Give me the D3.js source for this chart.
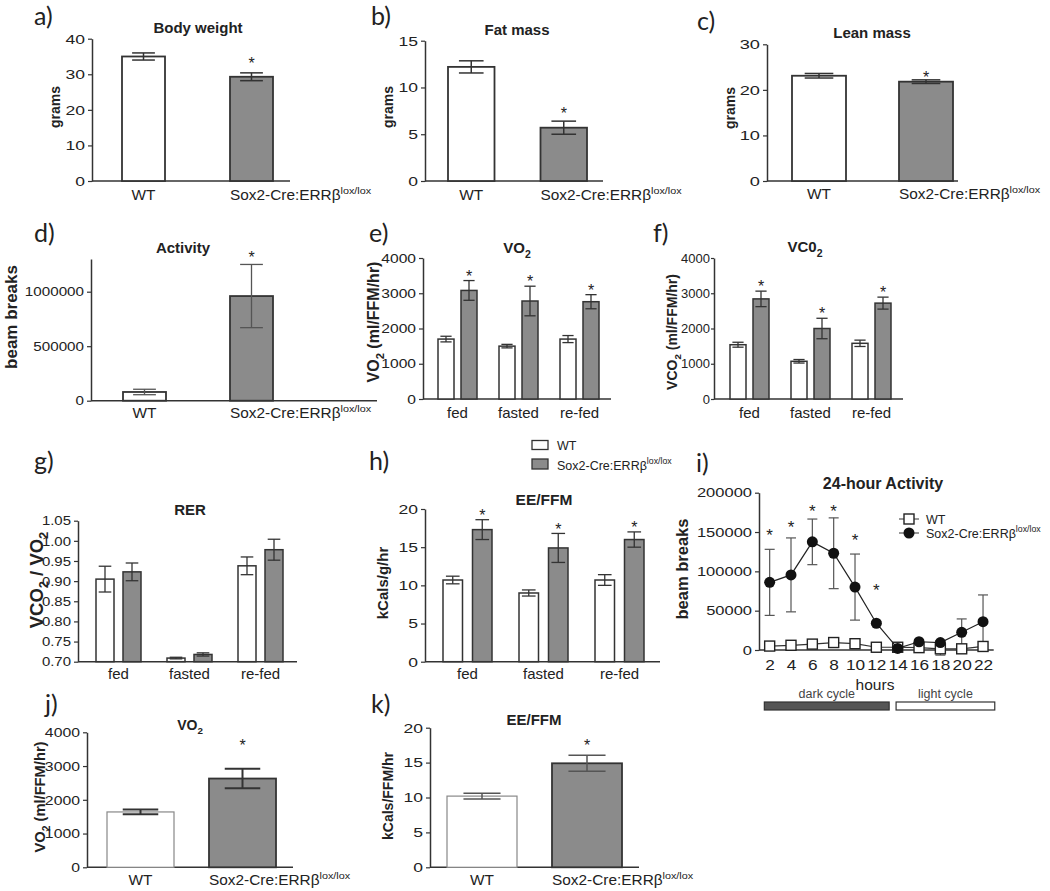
<!DOCTYPE html>
<html><head><meta charset="utf-8">
<script src="https://cdn.jsdelivr.net/npm/d3@7"></script>
<style>
body{margin:0;background:#fff;}
svg{display:block;font-family:"Liberation Sans",Arial,sans-serif;}
</style></head><body><svg id="c" width="1050" height="891"></svg>
<script>
// ---------------- data ----------------
const genotypes = ["WT", "Sox2-Cre:ERRβ"];
const bodyWeight = [35.0, 29.3], bodyWeightErr = [1.0, 1.1];
const fatMass = [12.2, 5.7], fatMassErr = [0.65, 0.7];
const leanMass = [23.1, 21.8], leanMassErr = [0.5, 0.4];
const activity = [80000, 960000], activityErr = [25000, 290000];
const twoBarStars = [false, true];

const conditions = ["fed", "fasted", "re-fed"];
const vo2WT = [1700, 1500, 1700], vo2WTErr = [80, 50, 100];
const vo2Sox = [3080, 2780, 2760], vo2SoxErr = [280, 420, 200];
const vco2WT = [1540, 1070, 1580], vco2WTErr = [70, 50, 90];
const vco2Sox = [2840, 2000, 2720], vco2SoxErr = [220, 290, 170];
const rerWT = [0.905, 0.709, 0.938], rerWTErr = [0.032, 0.002, 0.022];
const rerSox = [0.923, 0.718, 0.978], rerSoxErr = [0.022, 0.004, 0.026];
const eeWT = [10.7, 9.0, 10.7], eeWTErr = [0.5, 0.4, 0.7];
const eeSox = [17.3, 14.9, 16.0], eeSoxErr = [1.3, 1.9, 1.0];

const hours = [2, 4, 6, 8, 10, 12, 14, 16, 18, 20, 22];
const actWT = [5000, 6000, 7500, 9500, 8000, 3500, 3500, 3000, 1500, 1500, 4500];
const actWTErr = [1500, 2000, 2000, 2000, 2000, 1500, 2000, 6000, 8000, 2000, 3000];
const actSox = [86000, 95500, 137500, 123000, 80000, 34000, 2000, 10500, 9500, 22500, 36000];
const actSoxErr = [42000, 47000, 29000, 45000, 42000, 2000, 2000, 2000, 2000, 17000, 34000];
const actStarHours = [2, 4, 6, 8, 10, 12];
const actStarLevel = [150500, 161500, 181000, 181000, 145000, 81400];
const cycleNames = ["dark cycle", "light cycle"];
const cycleStart = [1.5, 13.85];
const cycleEnd = [13.2, 23.1];

const vo2Total = [1640, 2630], vo2TotalErr = [70, 290];
const eeTotal = [10.2, 14.9], eeTotalErr = [0.4, 1.15];

const ticks0to40 = [0, 10, 20, 30, 40];
const ticks0to15 = [0, 5, 10, 15];
const ticks0to30 = [0, 10, 20, 30];
const ticksActivity = [0, 500000, 1000000];
const ticks0to4000 = [0, 1000, 2000, 3000, 4000];
const ticksRER = [0.70, 0.75, 0.80, 0.85, 0.90, 0.95, 1.00, 1.05];
const ticks0to20 = [0, 5, 10, 15, 20];
const ticks24h = [0, 50000, 100000, 150000, 200000];

// ---------------- drawing ----------------
const svg = d3.select("#c");
const INK = "#222";
const FONT = "'Liberation Sans', Arial, sans-serif";
const SOXFILL = "#8b8b8b";

function stretch(sel, k, origin) {
  if (!k || k === 1) return sel;
  return sel.style("transform-box", "fill-box").style("transform-origin", origin).style("transform", `scaleX(${k})`);
}

function rich(g, x, y, parts, fs, o = {}) {
  const t = g.append("text").attr("x", x).attr("y", y).attr("font-size", fs).attr("fill", INK);
  if (o.anchor) t.attr("text-anchor", o.anchor);
  if (o.weight) t.attr("font-weight", o.weight);
  if (o.rotate) t.attr("transform", `rotate(-90 ${x} ${y})`);
  let cur = 0;
  parts.forEach(p => {
    const [s, kind] = Array.isArray(p) ? p : [p, ""];
    const target = kind === "sub" ? fs * 0.3 : kind === "sup" ? -fs * 0.45 : 0;
    const ts = t.append("tspan").text(s);
    if (target !== cur) ts.attr("dy", target - cur);
    if (kind) ts.attr("font-size", fs * 0.7);
    cur = target;
  });
  return t;
}

function frame(p) {
  const g = svg.append("g");
  const y = d3.scaleLinear().domain(p.domain).range([p.yBase, p.yTop]);
  const ax = g.append("g").attr("transform", `translate(${p.ax},0)`)
    .call(d3.axisLeft(y).tickValues(p.ticks).tickFormat(p.fmt || d3.format("d"))
      .tickSize(p.tickLen || 4).tickSizeOuter(0).tickPadding(p.tickPad === undefined ? 3 : p.tickPad));
  ax.attr("font-size", p.fs).attr("font-family", FONT);
  ax.select(".domain").attr("stroke", "#333").attr("stroke-width", 1.5);
  ax.selectAll(".tick line").attr("stroke", "#333").attr("stroke-width", 1.2);
  const tt = ax.selectAll(".tick text").attr("fill", INK);
  stretch(tt, p.sx, "100% 50%");
  g.append("line").attr("x1", p.ax).attr("x2", p.xEnd).attr("y1", p.yBase).attr("y2", p.yBase)
    .attr("stroke", "#333").attr("stroke-width", 1.5);
  rich(g, p.tx, p.ty, p.title, p.tfs || 15, {anchor: "middle", weight: "bold"});
  rich(g, p.ylx + 0.36 * p.yfs, p.yly, p.ylab, p.yfs, {anchor: "middle", weight: "bold", rotate: true});
  g.append("text").attr("x", p.lx).attr("y", p.ly).text(p.letter)
    .attr("font-family", "Lato, 'Open Sans', sans-serif").attr("font-size", 25).attr("fill", INK);
  return {g, y};
}

function errBar(g, cx, y, v, e, cap, color, w) {
  const eb = g.append("g").attr("stroke", color).attr("stroke-width", w).attr("fill", "none");
  eb.append("line").attr("x1", cx).attr("x2", cx).attr("y1", y(v - e)).attr("y2", y(v + e));
  [v - e, v + e].forEach(yy => eb.append("line").attr("x1", cx - cap / 2).attr("x2", cx + cap / 2)
    .attr("y1", y(yy)).attr("y2", y(yy)));
}

function star(g, cx, cy, fs = 16) {
  g.append("text").attr("x", cx).attr("y", cy + 0.575 * fs).attr("text-anchor", "middle")
    .attr("font-size", fs).attr("fill", INK).text("*");
}

function soxLabel(g, x, y, fs, anchor, sx) {
  const t = rich(g, x, y, ["Sox2-Cre:ERRβ", ["lox/lox", "sup"]], fs, {anchor});
  stretch(t, sx, anchor === "start" ? "0% 50%" : "50% 50%");
}

function twoBar(p, vals, errs, stars) {
  const {g, y} = frame(p);
  const step = p.barR - p.barL - p.barW;
  const x = d3.scaleBand().domain(genotypes).range([p.barL, p.barR])
    .paddingInner(1 - p.barW / step).paddingOuter(0);
  const base = p.domain[0];
  genotypes.forEach((c, i) => {
    g.append("rect").attr("x", x(c)).attr("y", y(vals[i])).attr("width", x.bandwidth())
      .attr("height", y(base) - y(vals[i]))
      .attr("fill", i === 0 ? "#fff" : SOXFILL)
      .attr("stroke", i === 0 ? (p.wtStroke || "#333") : "#333")
      .attr("stroke-width", i === 0 ? (p.wtSW || 1.8) : 1.8);
    const cx = x(c) + x.bandwidth() / 2;
    errBar(g, cx, y, vals[i], errs[i], x.bandwidth() * 0.53, p.errColor || "#333", p.errW || 1.5);
    if (stars[i]) star(g, cx, y(vals[i] + errs[i]) - p.starGap);
  });
  const w = rich(g, x("WT") + x.bandwidth() / 2, p.catY, ["WT"], 14, {anchor: "middle"});
  stretch(w, 1.1, "50% 50%");
  soxLabel(g, x(genotypes[1]), p.catY, 14, "start", 1.1);
}

function grouped(p, wt, wtE, sox, soxE, stars) {
  const {g, y} = frame(p);
  const gstep = (p.barR - p.barL - p.groupW) / (conditions.length - 1);
  const x0 = d3.scaleBand().domain(conditions).range([p.barL, p.barR])
    .paddingInner(1 - p.groupW / gstep).paddingOuter(0);
  const x1 = d3.scaleBand().domain(genotypes).range([0, x0.bandwidth()])
    .paddingInner(1 - p.barW / (x0.bandwidth() - p.barW)).paddingOuter(0);
  const base = p.domain[0];
  conditions.forEach((c, i) => {
    [[wt, wtE, "#fff"], [sox, soxE, SOXFILL]].forEach(([vals, errs, fill], k) => {
      const bx = x0(c) + x1(genotypes[k]);
      g.append("rect").attr("x", bx).attr("y", y(vals[i])).attr("width", x1.bandwidth())
        .attr("height", y(base) - y(vals[i])).attr("fill", fill).attr("stroke", "#333").attr("stroke-width", 1.5);
      const cx = bx + x1.bandwidth() / 2;
      errBar(g, cx, y, vals[i], errs[i], x1.bandwidth() * 0.7, "#333", 1.3);
      if (k === 1 && stars) star(g, cx, y(vals[i] + errs[i]) - p.starGap);
    });
    g.append("text").attr("x", x0(c) + x0.bandwidth() / 2).attr("y", p.catY).attr("text-anchor", "middle")
      .attr("font-size", p.catFs).attr("fill", INK).text(c);
  });
  return g;
}

// a) Body weight
twoBar({ax: 92, yBase: 181, yTop: 38.7, domain: [0, 40], ticks: ticks0to40, fs: 13.5, sx: 1.3, xEnd: 290,
  title: ["Body weight"], tx: 198, ty: 33, ylab: ["grams"], ylx: 55, yly: 107, yfs: 14,
  letter: "a)", lx: 34, ly: 25, barL: 122, barR: 273, barW: 43, catY: 200, starGap: 13},
  bodyWeight, bodyWeightErr, twoBarStars);

// b) Fat mass
twoBar({ax: 425, yBase: 181, yTop: 40.7, domain: [0, 15], ticks: ticks0to15, fs: 13.5, sx: 1.3, xEnd: 603,
  title: ["Fat mass"], tx: 517, ty: 35, ylab: ["grams"], ylx: 388, yly: 107, yfs: 14,
  letter: "b)", lx: 371, ly: 25, barL: 448, barR: 587, barW: 46.5, catY: 200, starGap: 11},
  fatMass, fatMassErr, twoBarStars);

// c) Lean mass
twoBar({ax: 767, yBase: 181, yTop: 44.3, domain: [0, 30], ticks: ticks0to30, fs: 13.5, sx: 1.35, xEnd: 958,
  title: ["Lean mass"], tx: 872, ty: 38, ylab: ["grams"], ylx: 730, yly: 108, yfs: 14,
  letter: "c)", lx: 697, ly: 30, barL: 792, barR: 953, barW: 54, catY: 199, starGap: 6},
  leanMass, leanMassErr, twoBarStars);

// d) Activity
twoBar({ax: 91, yBase: 400.7, yTop: 259, domain: [0, 1300000], ticks: ticksActivity, fs: 13, sx: 1.17, xEnd: 377,
  title: ["Activity"], tx: 183, ty: 253, ylab: ["beam breaks"], ylx: 11, yly: 317, yfs: 17,
  letter: "d)", lx: 34, ly: 242, barL: 123, barR: 273, barW: 43, catY: 418, starGap: 11,
  errColor: "#555", errW: 1.3},
  activity, activityErr, twoBarStars);

// e) VO2
grouped({ax: 423, yBase: 399, yTop: 258, domain: [0, 4000], ticks: ticks0to4000, fs: 13, sx: 1.2, xEnd: 611,
  title: ["VO", ["2", "sub"]], tx: 517, ty: 253, ylab: ["VO", ["2", "sub"], " (ml/FFM/hr)"], ylx: 373, yly: 322, yfs: 16,
  letter: "e)", lx: 369, ly: 242, barL: 438, barR: 599, groupW: 39, barW: 16, catY: 418, catFs: 15, starGap: 8},
  vo2WT, vo2WTErr, vo2Sox, vo2SoxErr, true);

// f) VCO2
grouped({ax: 714, yBase: 399, yTop: 258, domain: [0, 4000], ticks: ticks0to4000, fs: 13, sx: 1.0, xEnd: 903,
  tickLen: 3, tickPad: 1,
  title: ["VC0", ["2", "sub"]], tx: 805, ty: 252, ylab: ["VCO", ["2", "sub"], " (ml/FFM/hr)"], ylx: 672, yly: 332, yfs: 14,
  letter: "f)", lx: 653, ly: 242, barL: 730, barR: 891, groupW: 39, barW: 16, catY: 418, catFs: 15, starGap: 8},
  vco2WT, vco2WTErr, vco2Sox, vco2SoxErr, true);

// g) RER
grouped({ax: 78, yBase: 661.7, yTop: 520.7, domain: [0.70, 1.05], ticks: ticksRER, fmt: d3.format(".2f"), fs: 13, sx: 1.15, xEnd: 297,
  title: ["RER"], tx: 190, ty: 515, ylab: ["VCO", ["2", "sub"], " / VO", ["2", "sub"]], ylx: 36, yly: 580, yfs: 18.5,
  letter: "g)", lx: 34, ly: 470, barL: 96, barR: 283, groupW: 45, barW: 18, catY: 679, catFs: 15, starGap: 8},
  rerWT, rerWTErr, rerSox, rerSoxErr, false);

// h) EE/FFM
grouped({ax: 425, yBase: 661.7, yTop: 509, domain: [0, 20], ticks: ticks0to20, fs: 13.5, sx: 1.3, xEnd: 660,
  title: ["EE/FFM"], tx: 544, ty: 505, tfs: 15.5, ylab: ["kCals/g/hr"], ylx: 383, yly: 583, yfs: 15,
  letter: "h)", lx: 369, ly: 470, barL: 443, barR: 644, groupW: 49, barW: 19.5, catY: 679, catFs: 15, starGap: 8},
  eeWT, eeWTErr, eeSox, eeSoxErr, true);

// shared legend (above h)
const leg = svg.append("g");
leg.append("rect").attr("x", 532).attr("y", 440.5).attr("width", 16).attr("height", 9)
  .attr("fill", "#fff").attr("stroke", "#333").attr("stroke-width", 1.3);
leg.append("rect").attr("x", 532).attr("y", 459).attr("width", 16).attr("height", 10)
  .attr("fill", SOXFILL).attr("stroke", "#333").attr("stroke-width", 1.3);
rich(leg, 557, 450, [genotypes[0]], 12.5);
rich(leg, 557, 470, [genotypes[1], ["lox/lox", "sup"]], 12.5);

// i) 24-hour activity
(function () {
  const p = {ax: 759, yBase: 650, yTop: 492.7, domain: [0, 200000], ticks: ticks24h, fs: 13, sx: 1.27, xEnd: 993.7,
    title: ["24-hour Activity"], tx: 883, ty: 489, tfs: 16, ylab: ["beam breaks"], ylx: 682, yly: 569, yfs: 16.5,
    letter: "i)", lx: 696, ly: 472};
  const {g, y} = frame(p);
  const x = d3.scaleLinear().domain([1, 23]).range([759, 993.7]);
  const xa = g.append("g").attr("transform", `translate(0,${p.yBase})`)
    .call(d3.axisBottom(x).tickValues(hours).tickFormat(d3.format("d")).tickSize(0).tickPadding(9));
  xa.select(".domain").remove();
  xa.attr("font-size", 15).attr("font-family", FONT);
  stretch(xa.selectAll(".tick text").attr("fill", INK), 1.15, "50% 50%");
  g.append("text").attr("x", 875).attr("y", 690).attr("text-anchor", "middle").attr("font-size", 15.5)
    .attr("fill", INK).text("hours");

  // error bars
  hours.forEach((h, i) => {
    errBar(g, x(h), y, actSox[i], actSoxErr[i], 10, "#555", 1.2);
    errBar(g, x(h), y, actWT[i], actWTErr[i], 10, "#555", 1.2);
  });
  const line = d3.line().x((d, i) => x(hours[i])).y(d => y(d));
  g.append("path").attr("d", line(actWT)).attr("fill", "none").attr("stroke", "#333").attr("stroke-width", 1.2);
  g.selectAll(null).data(actWT).enter().append("rect")
    .attr("x", (d, i) => x(hours[i]) - 5).attr("y", d => y(d) - 5).attr("width", 10).attr("height", 10)
    .attr("fill", "#fff").attr("stroke", "#222").attr("stroke-width", 1.4);
  g.append("path").attr("d", line(actSox)).attr("fill", "none").attr("stroke", "#222").attr("stroke-width", 1.2);
  g.selectAll(null).data(actSox).enter().append("circle")
    .attr("cx", (d, i) => x(hours[i])).attr("cy", d => y(d)).attr("r", 5.5).attr("fill", "#111");
  actStarHours.forEach((h, i) => star(g, x(h), y(actStarLevel[i]), 17));

  // legend
  g.append("line").attr("x1", 899).attr("x2", 919).attr("y1", 519).attr("y2", 519).attr("stroke", "#333");
  g.append("rect").attr("x", 904).attr("y", 514).attr("width", 10).attr("height", 10)
    .attr("fill", "#fff").attr("stroke", "#222").attr("stroke-width", 1.4);
  g.append("line").attr("x1", 899).attr("x2", 919).attr("y1", 533).attr("y2", 533).attr("stroke", "#333");
  g.append("circle").attr("cx", 909).attr("cy", 533).attr("r", 5.5).attr("fill", "#111");
  rich(g, 926, 524, [genotypes[0]], 12.5);
  rich(g, 926, 538, [genotypes[1], ["lox/lox", "sup"]], 12.5);

  // light / dark cycle bars
  cycleNames.forEach((n, i) => {
    g.append("rect").attr("x", x(cycleStart[i])).attr("y", 702).attr("width", x(cycleEnd[i]) - x(cycleStart[i]))
      .attr("height", 8).attr("fill", i === 0 ? "#555" : "#fff").attr("stroke", "#333").attr("stroke-width", 1.2);
    g.append("text").attr("x", (x(cycleStart[i]) + x(cycleEnd[i])) / 2).attr("y", 698).attr("text-anchor", "middle")
      .attr("font-size", 12.5).attr("fill", "#444").text(n);
  });
})();

// j) VO2 (total)
twoBar({ax: 87, yBase: 867.3, yTop: 732.3, domain: [0, 4000], ticks: ticks0to4000, fs: 13.5, sx: 1.17, xEnd: 293,
  title: ["VO", ["2", "sub"]], tx: 190, ty: 730, tfs: 14, ylab: ["VO", ["2", "sub"], " (ml/FFM/hr)"], ylx: 40, yly: 797, yfs: 14.7,
  letter: "j)", lx: 45, ly: 713, barL: 107, barR: 276, barW: 67, catY: 885, starGap: 27,
  wtStroke: "#888", wtSW: 1.2, errW: 2},
  vo2Total, vo2TotalErr, twoBarStars);

// k) EE/FFM (total)
twoBar({ax: 430, yBase: 867.3, yTop: 727.7, domain: [0, 20], ticks: ticks0to20, fs: 13.5, sx: 1.3, xEnd: 639,
  title: ["EE/FFM"], tx: 534, ty: 725, tfs: 15, ylab: ["kCals/FFM/hr"], ylx: 388, yly: 796, yfs: 14,
  letter: "k)", lx: 371, ly: 713, barL: 447, barR: 622, barW: 70, catY: 885, starGap: 13,
  wtStroke: "#888", wtSW: 1.2, errColor: "#555"},
  eeTotal, eeTotalErr, twoBarStars);
</script></body></html>
